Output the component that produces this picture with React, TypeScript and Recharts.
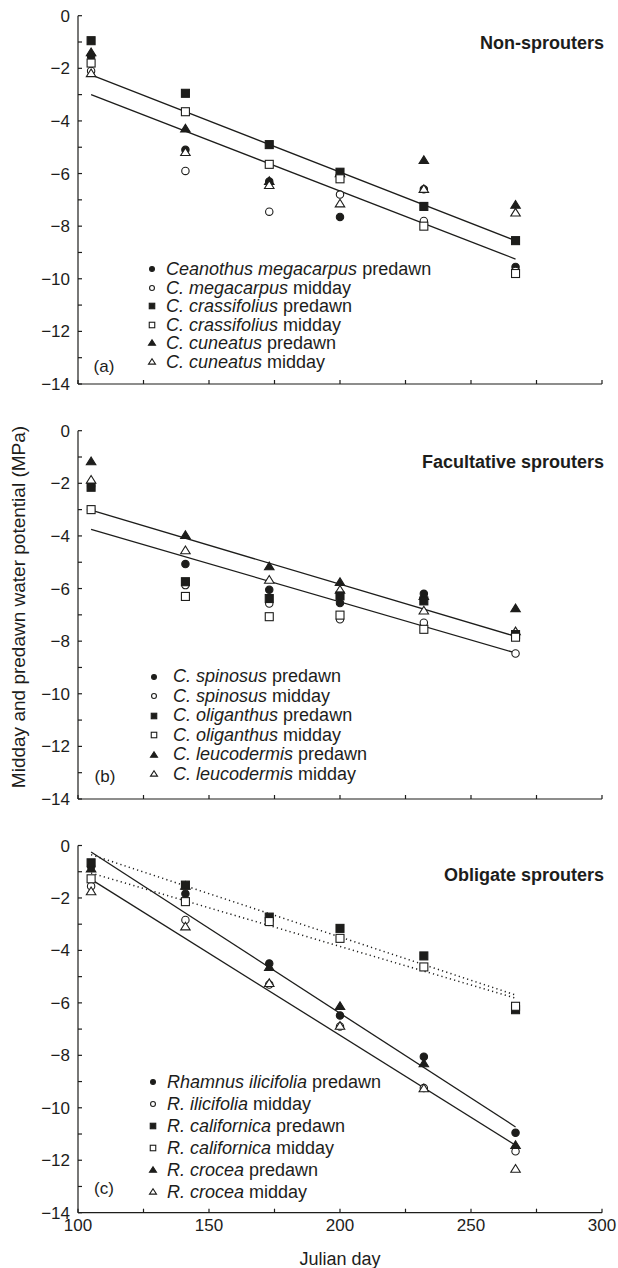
import React from 'react';
import { ScatterChart, Scatter, XAxis, YAxis, Legend } from 'recharts';

const FONT = '"Liberation Sans", Arial, Helvetica, sans-serif';
const INK = '#1d1d1b';

// sampling days (Julian) shared by every species
const days = [105, 141, 173, 200, 232, 267];
const fitDays = [105, 267];

const xTicks = [100, 125, 150, 175, 200, 225, 250, 275, 300];
const yTicks = [0, -1, -2, -3, -4, -5, -6, -7, -8, -9, -10, -11, -12, -13, -14];

// (a) non-sprouters
const megacarpusPredawn = [-1.55, -5.1, -6.3, -7.65, -6.6, -9.55];
const megacarpusMidday = [-2.1, -5.9, -7.45, -6.8, -7.8, -9.7];
const crassifoliusPredawn = [-0.95, -2.95, -4.9, -5.95, -7.25, -8.55];
const crassifoliusMidday = [-1.8, -3.65, -5.65, -6.2, -8.0, -9.8];
const cuneatusPredawn = [-1.4, -4.3, -6.3, -6.0, -5.5, -7.2];
const cuneatusMidday = [-2.2, -5.2, -6.45, -7.15, -6.6, -7.5];
const nonFitUpper = [-2.25, -8.55];
const nonFitLower = [-3.0, -9.25];

// (b) facultative sprouters
const spinosusPredawn = [-2.1, -5.07, -6.05, -6.55, -6.2, -7.75];
const spinosusMidday = [-3.0, -5.87, -6.57, -7.17, -7.3, -8.47];
const oliganthusPredawn = [-2.15, -5.74, -6.38, -6.28, -6.47, -7.75];
const oliganthusMidday = [-3.0, -6.3, -7.07, -7.01, -7.55, -7.85];
const leucodermisPredawn = [-1.18, -3.98, -5.17, -5.77, -6.3, -6.76];
const leucodermisMidday = [-1.88, -4.56, -5.68, -6.06, -6.85, -7.64];
const facFitUpper = [-3.02, -7.82];
const facFitLower = [-3.75, -8.45];

// (c) obligate sprouters
const ilicifoliaPredawn = [-0.8, -1.84, -4.5, -6.48, -8.05, -10.95];
const ilicifoliaMidday = [-1.55, -2.84, -5.3, -6.9, -9.25, -11.66];
const californicaPredawn = [-0.66, -1.51, -2.73, -3.16, -4.21, -6.26];
const californicaMidday = [-1.27, -2.14, -2.9, -3.54, -4.63, -6.13];
const croceaPredawn = [-0.89, -1.55, -4.65, -6.13, -8.32, -11.43];
const croceaMidday = [-1.76, -3.1, -5.26, -6.89, -9.27, -12.34];
const oblFitUpper = [-0.25, -10.73];
const oblFitLower = [-1.29, -11.43];
const oblDotUpper = [-0.35, -5.7];
const oblDotLower = [-1.05, -5.82];

type Kind = 'circle' | 'square' | 'triangle';

interface SeriesDef {
  species: string;
  time: string;
  kind: Kind;
  filled: boolean;
  values: number[];
}

interface FitDef {
  ends: number[];
  dotted?: boolean;
}

const pts = (values: number[], xs: number[] = days) => values.map((wp, i) => ({ day: xs[i], wp }));

const sixSeries = (names: string[], vals: number[][]): SeriesDef[] =>
  vals.map((values, i) => ({
    species: names[i],
    time: i % 2 === 0 ? 'predawn' : 'midday',
    kind: (['circle', 'circle', 'square', 'square', 'triangle', 'triangle'] as Kind[])[i],
    filled: i % 2 === 0,
    values,
  }));

const nonSeries = sixSeries(
  ['Ceanothus megacarpus', 'C. megacarpus', 'C. crassifolius', 'C. crassifolius', 'C. cuneatus', 'C. cuneatus'],
  [megacarpusPredawn, megacarpusMidday, crassifoliusPredawn, crassifoliusMidday, cuneatusPredawn, cuneatusMidday]
);
const facSeries = sixSeries(
  ['C. spinosus', 'C. spinosus', 'C. oliganthus', 'C. oliganthus', 'C. leucodermis', 'C. leucodermis'],
  [spinosusPredawn, spinosusMidday, oliganthusPredawn, oliganthusMidday, leucodermisPredawn, leucodermisMidday]
);
const oblSeries = sixSeries(
  ['Rhamnus ilicifolia', 'R. ilicifolia', 'R. californica', 'R. californica', 'R. crocea', 'R. crocea'],
  [ilicifoliaPredawn, ilicifoliaMidday, californicaPredawn, californicaMidday, croceaPredawn, croceaMidday]
);

function Mark({ cx, cy, kind, filled, size }: { cx: number; cy: number; kind: Kind; filled: boolean; size: number }) {
  const fill = filled ? INK : '#fff';
  const sw = 1.1;
  if (kind === 'circle') {
    return <circle cx={cx} cy={cy} r={size / 2 - 0.3} fill={fill} stroke={INK} strokeWidth={sw} />;
  }
  if (kind === 'square') {
    return <rect x={cx - size / 2} y={cy - size / 2} width={size} height={size} fill={fill} stroke={INK} strokeWidth={sw} />;
  }
  const w = size + 1;
  const h = size * 0.9;
  const p = `${cx},${cy - h * 0.6} ${cx - w / 2},${cy + h * 0.4} ${cx + w / 2},${cy + h * 0.4}`;
  return <polygon points={p} fill={fill} stroke={INK} strokeWidth={sw} strokeLinejoin="miter" />;
}

const XTick = (show: boolean) => (props: any) => {
  const v = props.payload.value;
  if (!show || v % 50 !== 0) return <g />;
  return (
    <text x={props.x} y={props.y} dy={12} textAnchor="middle" fontSize={17} fontFamily={FONT} fill={INK}>
      {v}
    </text>
  );
};

const YTick = (props: any) => {
  const v = props.payload.value;
  if (v % 2 !== 0) return <g />;
  return (
    <text x={props.x} y={props.y} dy={6} textAnchor="end" fontSize={17} fontFamily={FONT} fill={INK}>
      {v < 0 ? `\u2212${Math.abs(v)}` : '0'}
    </text>
  );
};

interface PanelProps {
  top: number;
  height: number;
  marginTop: number;
  marginBottom: number;
  xAxisHeight: number;
  showXLabels: boolean;
  series: SeriesDef[];
  fits: FitDef[];
  legendTop: number;
  legendRow: number;
  legendMarkX: number;
  legendTextX: number;
}

// draw circles first, then triangles, squares on top
const drawOrder = [0, 1, 4, 5, 2, 3];

function LegendBox({ series, row, markX, textX }: { series: SeriesDef[]; row: number; markX: number; textX: number }) {
  return (
    <div style={{ fontFamily: FONT, fontSize: 18, color: INK }}>
      {series.map((s, i) => (
        <div key={i} style={{ position: 'relative', height: row, lineHeight: `${row}px`, whiteSpace: 'nowrap' }}>
          <svg width={12} height={12} style={{ position: 'absolute', left: markX - 6, top: row / 2 - 6 }}>
            <Mark cx={6} cy={6} kind={s.kind} filled={s.filled} size={s.kind === 'triangle' ? 6 : 5.5} />
          </svg>
          <span style={{ position: 'absolute', left: textX }}>
            <i>{s.species}</i> {s.time}
          </span>
        </div>
      ))}
    </div>
  );
}

function Panel(p: PanelProps) {
  return (
    <div style={{ position: 'absolute', left: 0, top: p.top }}>
      <ScatterChart
        width={618}
        height={p.height}
        margin={{ top: p.marginTop, right: 16, bottom: p.marginBottom, left: 18 }}
      >
        <XAxis
          type="number"
          dataKey="day"
          domain={[100, 300]}
          ticks={xTicks}
          interval={0}
          height={p.xAxisHeight}
          tickSize={-4}
          tickMargin={10}
          axisLine={{ stroke: INK, strokeWidth: 1.2 }}
          tickLine={{ stroke: INK, strokeWidth: 1.2 }}
          tick={XTick(p.showXLabels)}
        />
        <YAxis
          type="number"
          dataKey="wp"
          domain={[-14, 0]}
          ticks={yTicks}
          interval={0}
          width={60}
          tickSize={-4}
          tickMargin={12}
          axisLine={{ stroke: INK, strokeWidth: 1.2 }}
          tickLine={{ stroke: INK, strokeWidth: 1.2 }}
          tick={YTick}
        />
        {p.fits.map((f, i) => (
          <Scatter
            key={`fit-${i}`}
            data={pts(f.ends, fitDays)}
            line={{ stroke: INK, strokeWidth: f.dotted ? 1.5 : 1.3, strokeDasharray: f.dotted ? '1.2 3.2' : undefined }}
            shape={() => <g />}
            legendType="none"
            isAnimationActive={false}
          />
        ))}
        {drawOrder.map((idx) => {
          const s = p.series[idx];
          return (
            <Scatter
              key={`s-${idx}`}
              name={`${s.species} ${s.time}`}
              data={pts(s.values)}
              shape={(sp: any) => <Mark cx={sp.cx} cy={sp.cy} kind={s.kind} filled={s.filled} size={s.kind === 'triangle' ? 8.5 : 8} />}
              isAnimationActive={false}
            />
          );
        })}
        <Legend
          layout="vertical"
          align="center"
          verticalAlign="middle"
          wrapperStyle={{ left: 0, top: p.legendTop, width: 400, height: 'auto' }}
          content={() => <LegendBox series={p.series} row={p.legendRow} markX={p.legendMarkX} textX={p.legendTextX} />}
        />
      </ScatterChart>
    </div>
  );
}

const titleStyle: React.CSSProperties = {
  position: 'absolute',
  right: 14,
  fontFamily: FONT,
  fontSize: 18,
  fontWeight: 'bold',
  color: INK,
  lineHeight: '18px',
  whiteSpace: 'nowrap',
};

const letterStyle: React.CSSProperties = {
  position: 'absolute',
  fontFamily: FONT,
  fontSize: 17,
  color: INK,
  lineHeight: '18px',
  transform: 'translateX(-50%)',
};

export default function App() {
  return (
    <div style={{ position: 'absolute', left: 0, top: 0, width: 618, height: 1268, background: '#fff', overflow: 'hidden' }}>
      <Panel
        top={0}
        height={410}
        marginTop={15.7}
        marginBottom={6}
        xAxisHeight={20}
        showXLabels={false}
        series={nonSeries}
        fits={[{ ends: nonFitUpper }, { ends: nonFitLower }]}
        legendTop={260}
        legendRow={18.5}
        legendMarkX={152}
        legendTextX={166}
      />
      <Panel
        top={415}
        height={410}
        marginTop={15.7}
        marginBottom={6}
        xAxisHeight={20}
        showXLabels={false}
        series={facSeries}
        fits={[{ ends: facFitUpper }, { ends: facFitLower }]}
        legendTop={252}
        legendRow={19.5}
        legendMarkX={154}
        legendTextX={173}
      />
      <Panel
        top={830}
        height={438}
        marginTop={15.5}
        marginBottom={25.3}
        xAxisHeight={30}
        showXLabels={true}
        series={oblSeries}
        fits={[
          { ends: oblFitUpper },
          { ends: oblFitLower },
          { ends: oblDotUpper, dotted: true },
          { ends: oblDotLower, dotted: true },
        ]}
        legendTop={240.6}
        legendRow={22.1}
        legendMarkX={153}
        legendTextX={167}
      />

      <div style={{ ...titleStyle, top: 34 }}>Non-sprouters</div>
      <div style={{ ...titleStyle, top: 452.7 }}>Facultative sprouters</div>
      <div style={{ ...titleStyle, top: 866 }}>Obligate sprouters</div>

      <div style={{ ...letterStyle, left: 104, top: 357.7 }}>(a)</div>
      <div style={{ ...letterStyle, left: 105, top: 767.7 }}>(b)</div>
      <div style={{ ...letterStyle, left: 104, top: 1180 }}>(c)</div>

      <div
        style={{
          position: 'absolute',
          left: 19,
          top: 607,
          transform: 'translate(-50%, -50%) rotate(-90deg)',
          fontFamily: FONT,
          fontSize: 19,
          color: INK,
          whiteSpace: 'nowrap',
        }}
      >
        Midday and predawn water potential (MPa)
      </div>
      <div
        style={{
          position: 'absolute',
          left: 340,
          top: 1250,
          transform: 'translateX(-50%)',
          fontFamily: FONT,
          fontSize: 18,
          color: INK,
          lineHeight: '18px',
          whiteSpace: 'nowrap',
        }}
      >
        Julian day
      </div>
    </div>
  );
}
